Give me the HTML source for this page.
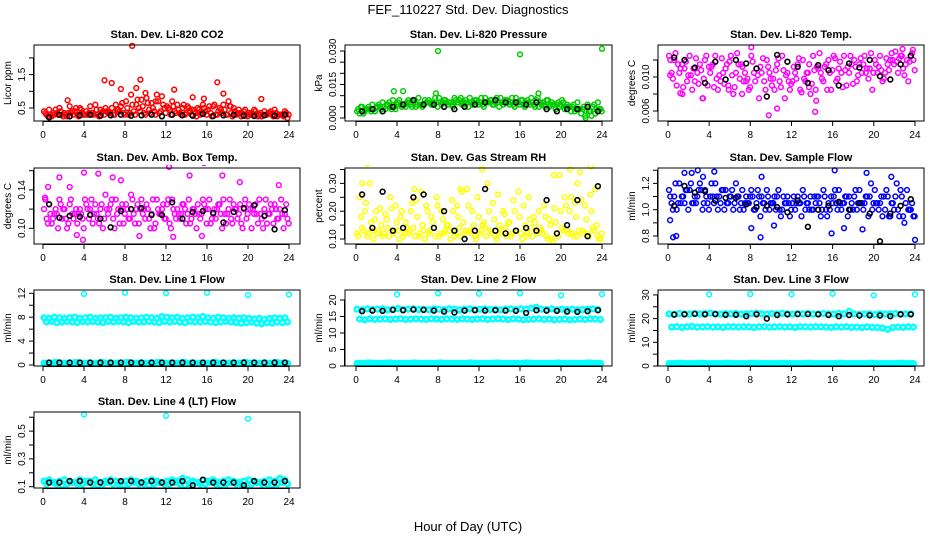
<!DOCTYPE html>
<html><head><meta charset="utf-8">
<style>
html,body{margin:0;padding:0;background:#fff;}
svg{display:block;font-family:"Liberation Sans",sans-serif;}
</style></head>
<body>
<svg id="chart" width="936" height="540" viewBox="0 0 936 540">
<rect x="0" y="0" width="936" height="540" fill="#fff"/>
<text x="468" y="14" text-anchor="middle" font-size="13">FEF_110227  Std. Dev. Diagnostics</text>
<text x="468" y="531" text-anchor="middle" font-size="13">Hour of Day (UTC)</text>
</svg>
<script>
// ---------- data ----------
const xTicks=[0,4,8,12,16,20,24];
const co2A=[0.4,0.45,0.3,0.5,0.35,0.55,0.4,0.5,0.3,0.55,0.6,0.45,0.5,0.35,0.6,0.55,0.7,0.9,0.6,0.75,0.8,0.65,0.9,0.85,0.55,0.7,0.6,0.5,0.55,0.45,0.5,0.6,0.45,0.55,0.4,0.6,0.7,0.5,0.45,0.4,0.35,0.45,0.3,0.4,0.35,0.45,0.3,0.4];
const co2B=[0.3,0.25,0.35,0.3,0.25,0.4,0.3,0.35,0.3,0.35,0.3,0.4,0.35,0.3,0.45,0.35,0.3,0.4,0.5,0.35,0.45,0.4,0.35,0.5,0.45,0.4,0.35,0.3,0.4,0.35,0.3,0.4,0.35,0.3,0.45,0.3,0.35,0.3,0.25,0.3,0.35,0.3,0.25,0.3,0.3,0.25,0.3,0.2];
const co2C=[0.35,0.3,0.45,0.4,0.3,0.35,0.5,0.45,0.4,0.3,0.45,0.35,0.4,0.5,0.45,0.65,0.5,0.6,0.75,0.55,0.65,0.5,0.7,0.6,0.5,0.55,0.45,0.6,0.5,0.4,0.45,0.5,0.55,0.6,0.5,0.45,0.55,0.4,0.35,0.45,0.3,0.4,0.35,0.3,0.4,0.35,0.3,0.35];
const co2D=[0.25,0.35,0.3,0.25,0.35,0.3,0.25,0.3,0.35,0.3,0.25,0.3,0.35,0.3,0.4,0.3,0.35,0.3,0.4,0.3,0.35,0.3,0.4,0.35,0.3,0.35,0.3,0.35,0.3,0.25,0.35,0.3,0.25,0.3,0.35,0.3,0.25,0.35,0.3,0.25,0.3,0.25,0.3,0.35,0.25,0.3,0.25,0.3];
const co2OutH=[8.7,6,6.7,9.5,9.1,7.6,12.8,17,17.6,21.3,2.4,14.6,15.7,10,18.3,11];
const co2OutV=[2.36,1.33,1.25,1.35,1.1,1.07,1.05,1.27,0.93,0.77,0.73,0.82,0.78,0.95,0.55,0.7];
const co2K=[0.22,0.3,0.25,0.28,0.3,0.27,0.28,0.3,0.27,0.28,0.3,0.25,0.3,0.28,0.27,0.32,0.26,0.28,0.3,0.27,0.26,0.28,0.27,0.3];

const presA=[0.003,0.005,0.004,0.006,0.005,0.007,0.006,0.008,0.007,0.006,0.008,0.007,0.009,0.006,0.008,0.007,0.009,0.008,0.007,0.009,0.008,0.007,0.009,0.008,0.007,0.009,0.008,0.007,0.009,0.008,0.007,0.009,0.008,0.007,0.009,0.008,0.006,0.008,0.007,0.006,0.008,0.006,0.005,0.007,0.004,0.006,0.005,0.007];
const presB=[0.002,0.003,0.004,0.003,0.005,0.004,0.005,0.004,0.006,0.005,0.006,0.005,0.006,0.007,0.006,0.007,0.006,0.007,0.006,0.007,0.006,0.007,0.006,0.007,0.006,0.007,0.006,0.007,0.006,0.007,0.006,0.007,0.006,0.007,0.006,0.005,0.006,0.005,0.006,0.005,0.004,0.005,0.003,0.004,0.001,0.003,0.002,0.004];
const presC=[0.004,0.002,0.005,0.004,0.006,0.005,0.007,0.005,0.008,0.006,0.007,0.008,0.006,0.008,0.007,0.009,0.007,0.008,0.007,0.008,0.009,0.008,0.007,0.008,0.009,0.007,0.008,0.009,0.007,0.008,0.009,0.007,0.008,0.008,0.007,0.009,0.007,0.008,0.006,0.007,0.007,0.005,0.006,0.004,0.005,0.003,0.006,0.004];
const presD=[0.005,0.004,0.003,0.005,0.004,0.006,0.004,0.006,0.005,0.007,0.005,0.006,0.005,0.007,0.006,0.005,0.007,0.006,0.005,0.007,0.006,0.005,0.007,0.006,0.005,0.007,0.006,0.005,0.007,0.006,0.005,0.006,0.005,0.006,0.005,0.007,0.005,0.006,0.004,0.006,0.005,0.003,0.004,0.002,0.003,0.001,0.004,0.003];
const presOutH=[8,16,24,3.7,4.6,7.8,17.8,22.4];
const presOutV=[0.030,0.0285,0.031,0.012,0.012,0.011,0.011,0.000];
const presK=[0.003,0.004,0.003,0.005,0.006,0.008,0.006,0.006,0.005,0.004,0.005,0.006,0.007,0.008,0.007,0.007,0.006,0.007,0.004,0.003,0.004,0.004,0.005,0.003];

const tempA=[0.0125,0.012,0.0105,0.011,0.0125,0.0095,0.0115,0.012,0.0105,0.0125,0.0095,0.011,0.0125,0.0105,0.0115,0.0095,0.0125,0.011,0.0105,0.012,0.009,0.0115,0.0125,0.0105,0.0095,0.0115,0.012,0.0105,0.0125,0.011,0.0095,0.012,0.0125,0.011,0.0125,0.0105,0.012,0.0115,0.0125,0.011,0.012,0.0125,0.0105,0.012,0.013,0.0125,0.0115,0.0125];
const tempB=[0.0105,0.009,0.0115,0.0095,0.0085,0.0105,0.0075,0.009,0.0115,0.0085,0.0105,0.009,0.008,0.0115,0.0095,0.0085,0.0105,0.0075,0.0095,0.0105,0.0085,0.0095,0.0075,0.0085,0.0105,0.0085,0.0095,0.008,0.0085,0.0105,0.0115,0.0085,0.0095,0.0105,0.009,0.0115,0.0095,0.0105,0.011,0.0085,0.0105,0.0095,0.0115,0.012,0.0105,0.011,0.0095,0.012];
const tempC=[0.012,0.0128,0.011,0.0118,0.0102,0.0122,0.0108,0.0125,0.0112,0.0098,0.0122,0.0115,0.0102,0.0128,0.0112,0.0098,0.0118,0.0102,0.0122,0.0112,0.0098,0.0122,0.0108,0.0095,0.0112,0.0122,0.0098,0.0115,0.0108,0.0128,0.0112,0.0105,0.0122,0.0118,0.0108,0.0125,0.0112,0.0122,0.0105,0.0128,0.0115,0.0108,0.0122,0.0128,0.0118,0.0125,0.012,0.0128];
const tempD=[0.0098,0.0115,0.0088,0.0102,0.011,0.0092,0.0098,0.0112,0.0088,0.0102,0.0092,0.0118,0.0088,0.0098,0.0105,0.0088,0.0095,0.0112,0.0085,0.0098,0.0108,0.0088,0.0102,0.0092,0.0098,0.0082,0.0105,0.0092,0.0112,0.0098,0.0085,0.0108,0.0098,0.0088,0.0112,0.0092,0.0102,0.0115,0.0098,0.0105,0.0112,0.0098,0.0108,0.0115,0.0122,0.0102,0.0118,0.0108];
const tempOutH=[9.8,10.6,14.3,0.2,3.4,1.4,13.7,8.1,1.2,5.9,22.8,23.8,14.4,7.2];
const tempOutV=[0.0055,0.0063,0.0059,0.0102,0.0075,0.008,0.0088,0.0135,0.0081,0.0085,0.0133,0.0132,0.0072,0.008];
const tempK=[0.0123,0.0120,0.0111,0.0093,0.0118,0.0097,0.0120,0.0116,0.0110,0.0077,0.0126,0.0118,0.0112,0.0093,0.0114,0.0108,0.0090,0.0116,0.0111,0.0120,0.0101,0.0097,0.0115,0.0125];

const ambA=[0.12,0.125,0.115,0.13,0.12,0.125,0.115,0.12,0.13,0.12,0.125,0.12,0.135,0.125,0.13,0.12,0.125,0.135,0.12,0.13,0.125,0.115,0.13,0.12,0.125,0.13,0.12,0.125,0.115,0.12,0.125,0.13,0.12,0.115,0.125,0.13,0.12,0.125,0.115,0.12,0.125,0.115,0.13,0.12,0.115,0.125,0.12,0.115];
const ambB=[0.11,0.105,0.115,0.11,0.1,0.115,0.105,0.11,0.12,0.105,0.11,0.1,0.115,0.11,0.12,0.105,0.11,0.115,0.105,0.12,0.11,0.1,0.115,0.11,0.105,0.115,0.11,0.12,0.105,0.115,0.11,0.12,0.105,0.11,0.115,0.105,0.11,0.12,0.105,0.11,0.1,0.115,0.11,0.105,0.12,0.11,0.115,0.11];
const ambC=[0.13,0.115,0.12,0.125,0.11,0.13,0.12,0.115,0.125,0.13,0.115,0.125,0.12,0.13,0.115,0.125,0.12,0.13,0.125,0.115,0.12,0.13,0.12,0.125,0.13,0.12,0.115,0.125,0.13,0.12,0.115,0.125,0.13,0.12,0.125,0.115,0.13,0.12,0.125,0.13,0.12,0.125,0.115,0.13,0.125,0.12,0.13,0.125];
const ambD=[0.105,0.11,0.1,0.12,0.105,0.11,0.115,0.1,0.11,0.115,0.105,0.11,0.12,0.1,0.105,0.115,0.11,0.105,0.12,0.11,0.1,0.105,0.115,0.11,0.1,0.11,0.115,0.105,0.11,0.1,0.115,0.105,0.11,0.12,0.1,0.115,0.105,0.11,0.1,0.115,0.12,0.105,0.1,0.115,0.105,0.11,0.1,0.105];
const ambOutH=[1.6,2.6,3.3,4,5.4,6.8,7.6,12.3,14.3,15.7,16.2,16.9,17.5,19.2,23,3.9,0.2,9.4,12.7,15.5,0.5];
const ambOutV=[0.153,0.143,0.093,0.158,0.157,0.153,0.15,0.164,0.155,0.168,0.17,0.172,0.155,0.148,0.145,0.088,0.132,0.092,0.091,0.092,0.143];
const ambK=[0.125,0.111,0.113,0.112,0.114,0.110,0.101,0.118,0.120,0.121,0.114,0.114,0.127,0.110,0.117,0.118,0.116,0.106,0.117,0.121,0.124,0.113,0.099,0.119];

const rhA=[0.12,0.14,0.11,0.13,0.12,0.11,0.14,0.12,0.13,0.11,0.12,0.14,0.11,0.13,0.12,0.14,0.11,0.12,0.13,0.11,0.14,0.12,0.13,0.11,0.12,0.14,0.13,0.11,0.12,0.14,0.11,0.13,0.12,0.11,0.14,0.12,0.13,0.11,0.1,0.12,0.14,0.13,0.12,0.11,0.13,0.12,0.14,0.11];
const rhB=[0.25,0.2,0.3,0.17,0.21,0.19,0.25,0.22,0.18,0.16,0.2,0.24,0.27,0.22,0.18,0.25,0.2,0.15,0.24,0.22,0.27,0.28,0.2,0.25,0.15,0.3,0.23,0.26,0.2,0.16,0.24,0.27,0.22,0.25,0.18,0.2,0.22,0.17,0.21,0.33,0.25,0.2,0.23,0.34,0.22,0.26,0.28,0.1];
const rhC=[0.11,0.13,0.12,0.1,0.13,0.12,0.11,0.13,0.1,0.12,0.13,0.11,0.12,0.1,0.13,0.11,0.12,0.13,0.1,0.12,0.11,0.13,0.12,0.1,0.13,0.11,0.12,0.1,0.13,0.11,0.12,0.13,0.1,0.12,0.11,0.13,0.12,0.1,0.09,0.11,0.13,0.12,0.11,0.13,0.12,0.11,0.13,0.1];
const rhD=[0.18,0.23,0.16,0.2,0.15,0.17,0.21,0.16,0.2,0.14,0.23,0.18,0.15,0.2,0.16,0.22,0.17,0.15,0.2,0.18,0.16,0.22,0.15,0.18,0.16,0.2,0.17,0.15,0.19,0.16,0.2,0.18,0.15,0.17,0.16,0.14,0.18,0.15,0.16,0.2,0.22,0.25,0.18,0.24,0.17,0.2,0.15,0.12];
const rhOutH=[1.1,12.3,20.9,22.9,19.3,21.6,0.6,5.7,10.2];
const rhOutV=[0.37,0.35,0.35,0.36,0.33,0.30,0.30,0.28,0.28];
const rhK=[0.26,0.14,0.27,0.13,0.14,0.25,0.26,0.14,0.20,0.13,0.10,0.13,0.28,0.13,0.12,0.13,0.14,0.13,0.24,0.12,0.15,0.24,0.11,0.29];

const flowA=[1.15,1.1,1.2,1.05,1.15,1.1,1.2,1.15,1.1,1.2,1.05,1.15,1.1,1.2,1.05,1.1,1.15,1.05,1.1,1.15,1.05,1.1,1.0,1.1,1.05,1.1,1.15,1.05,1.0,1.1,1.15,1.05,1.1,1.15,1.05,1.1,1.1,1.15,1.05,1.1,1.15,1.05,1.0,0.95,1.1,1.15,1.05,1.0];
const flowB=[1.05,1.0,1.1,1.15,1.05,1.1,1.0,1.05,1.1,1.0,1.15,1.05,1.0,1.1,1.0,1.05,1.0,1.1,1.05,1.0,1.1,1.0,1.05,0.95,1.0,1.05,1.0,1.1,1.05,0.95,1.0,1.1,1.05,1.0,1.1,1.05,1.0,1.05,1.1,1.0,1.05,0.95,1.1,1.05,1.0,0.95,1.0,0.95];
const flowC=[1.1,1.2,1.05,1.15,1.2,1.05,1.15,1.1,1.2,1.1,1.15,1.05,1.15,1.1,1.15,1.05,1.1,1.15,1.05,1.1,1.05,1.15,1.1,1.05,1.1,1.05,1.1,1.0,1.1,1.05,1.1,1.0,1.15,1.05,1.1,1.0,1.15,1.05,1.1,1.2,1.05,1.1,1.15,1.05,1.2,1.1,1.15,1.05];
const flowD=[1.0,1.05,1.1,1.0,1.05,1.15,1.05,1.0,1.05,1.1,1.0,1.1,1.05,1.0,1.05,1.1,1.0,0.95,1.0,1.05,1.0,0.95,1.05,1.0,1.05,0.95,1.05,1.0,1.1,1.0,0.95,1.05,1.0,1.05,0.95,1.0,1.05,1.0,0.95,1.05,1.0,1.1,0.95,1.0,0.95,0.9,1.0,0.95];
const flowOutH=[0.2,0.5,0.8,1.6,2.3,2.9,4.5,8.1,9.0,10.3,15.9,16.2,17.1,18.9,19.3,21.7,24,9.1,3.4];
const flowOutV=[0.92,0.79,0.8,1.28,1.28,1.3,1.29,0.86,0.79,0.88,0.82,1.3,0.86,0.85,1.28,1.25,0.77,1.25,1.25];
const flowK=[1.03,1.18,1.13,1.14,1.07,1.09,1.09,1.04,1.02,1.03,1.02,0.98,1.07,0.87,1.00,1.03,1.06,1.00,1.05,0.97,0.76,0.97,1.03,1.08];

const l1A=[7.9,7.8,8.0,7.9,7.8,7.9,8.0,7.8,7.9,8.0,7.8,7.9,7.9,8.0,7.8,7.9,8.0,7.9,7.8,7.9,8.0,7.9,7.8,8.1,8.0,7.9,8.0,7.8,7.9,8.0,7.9,8.1,7.9,7.8,8.0,7.9,7.8,7.9,7.8,7.9,7.8,7.7,7.8,7.6,7.8,7.9,7.8,7.9];
const l1B=[7.2,7.3,7.1,7.2,7.3,7.2,7.1,7.3,7.2,7.3,7.2,7.1,7.3,7.2,7.3,7.2,7.1,7.3,7.2,7.2,7.3,7.2,7.1,7.3,7.2,7.3,7.2,7.1,7.3,7.2,7.2,7.3,7.2,7.1,7.2,7.3,7.2,7.1,7.0,7.1,7.2,7.0,6.9,7.1,7.0,7.2,7.1,7.2];
const l1Low=[0.3,0.3,0.4,0.3,0.3,0.3,0.4,0.3,0.3,0.3,0.3,0.4,0.3,0.3,0.3,0.3,0.4,0.3,0.3,0.3,0.3,0.3,0.4,0.3,0.3,0.3,0.3,0.4,0.3,0.3,0.3,0.3,0.3,0.4,0.3,0.3,0.3,0.3,0.3,0.4,0.3,0.3,0.3,0.3,0.3,0.4,0.3,0.3];
const l1OutH=[4,8,12,16,20,24];
const l1OutV=[11.9,12.1,12.0,12.1,11.7,11.8];
const l1K=[0.4,0.4,0.4,0.4,0.4,0.4,0.4,0.4,0.4,0.4,0.4,0.4,0.4,0.4,0.4,0.4,0.4,0.4,0.4,0.4,0.4,0.4,0.4,0.4];

const l2A=[17.2,17.0,17.3,17.1,17.2,17.3,17.0,17.2,17.4,17.1,17.2,17.3,17.1,17.2,17.0,17.3,17.2,17.1,17.3,17.2,17.0,17.2,17.3,17.1,17.2,17.3,17.1,17.2,17.0,17.2,17.3,17.1,17.3,17.2,17.5,17.8,17.2,17.1,17.3,17.0,17.2,17.1,17.2,17.0,17.1,17.2,17.3,17.1];
const l2B=[14.2,14.0,14.3,14.1,14.2,14.3,14.1,14.2,14.3,14.1,14.2,14.3,14.2,14.1,14.3,14.2,14.1,14.3,14.2,14.1,14.3,14.2,14.1,14.2,14.3,14.1,14.2,14.3,14.2,14.1,14.3,14.2,14.0,14.1,14.2,14.3,14.1,14.2,14.0,14.1,14.2,14.0,14.1,14.2,14.1,14.3,14.2,14.1];
const l2Low=[0.8,0.8,0.9,0.8,0.8,0.8,0.9,0.8,0.8,0.8,0.8,0.9,0.8,0.8,0.8,0.8,0.9,0.8,0.8,0.8,0.8,0.8,0.9,0.8,0.8,0.8,0.8,0.9,0.8,0.8,0.8,0.8,0.8,0.9,0.8,0.8,0.8,0.8,0.8,0.9,0.8,0.8,0.8,0.8,0.8,0.9,0.8,0.8];
const l2OutH=[4,8,12,16,20,24];
const l2OutV=[21.7,22.0,21.9,22.0,21.4,21.8];
const l2K=[16.6,16.8,16.7,17.0,16.9,17.1,17.0,16.8,16.5,16.2,16.8,16.9,16.8,16.9,16.8,16.7,16.1,16.9,16.8,16.7,16.5,16.4,16.6,16.9];

const l3A=[22.0,21.8,22.1,22.0,21.9,22.2,22.0,22.1,22.3,22.0,21.9,22.1,22.0,22.2,21.9,22.0,22.1,22.3,22.0,21.9,22.1,22.0,22.2,22.0,21.9,22.1,22.0,22.2,21.9,22.0,22.1,22.0,21.9,22.2,22.0,23.0,22.0,21.8,21.9,22.0,21.7,22.1,21.9,22.0,22.1,21.9,22.0,22.0];
const l3B=[16.4,16.6,16.3,16.5,16.7,16.4,16.5,16.6,16.4,16.5,16.3,16.6,16.5,16.4,16.6,16.5,16.3,16.5,16.6,16.4,16.5,16.6,16.4,16.5,16.3,16.6,16.5,16.4,16.6,16.5,16.4,16.3,16.5,16.4,16.6,16.3,16.4,16.2,16.5,16.3,16.2,16.0,15.5,16.2,16.4,16.3,16.5,16.4];
const l3Low=[1,1,1.2,1,1,1,1.2,1,1,1,1,1.2,1,1,1,1,1.2,1,1,1,1,1,1.2,1,1,1,1,1.2,1,1,1,1,1,1.2,1,1,1,1,1,1.2,1,1,1,1,1,1.2,1,1];
const l3OutH=[4,8,12,16,20,24];
const l3OutV=[30.2,30.4,30.3,30.5,29.8,30.2];
const l3K=[21.7,21.8,22.0,21.8,21.9,21.6,21.6,21.0,21.8,20.0,21.5,21.8,21.9,21.9,21.8,21.5,21.0,21.5,21.3,21.4,21.3,21.0,21.8,21.8];

const l4A=[0.14,0.15,0.13,0.14,0.15,0.14,0.13,0.15,0.14,0.14,0.15,0.13,0.14,0.15,0.14,0.13,0.14,0.15,0.14,0.13,0.14,0.15,0.14,0.13,0.14,0.15,0.14,0.16,0.15,0.14,0.13,0.15,0.14,0.15,0.13,0.14,0.15,0.14,0.13,0.14,0.15,0.14,0.13,0.14,0.15,0.14,0.16,0.15];
const l4B=[0.12,0.13,0.12,0.11,0.12,0.13,0.12,0.12,0.13,0.12,0.11,0.12,0.13,0.12,0.12,0.11,0.12,0.13,0.12,0.12,0.11,0.12,0.13,0.12,0.12,0.13,0.12,0.11,0.12,0.13,0.12,0.12,0.13,0.12,0.11,0.12,0.13,0.12,0.12,0.11,0.12,0.13,0.12,0.12,0.11,0.12,0.13,0.12];
const l4OutH=[4,12,20];
const l4OutV=[0.62,0.61,0.59];
const l4K=[0.13,0.13,0.14,0.14,0.13,0.13,0.14,0.14,0.14,0.13,0.14,0.13,0.13,0.14,0.11,0.15,0.13,0.13,0.13,0.11,0.14,0.13,0.13,0.14];

// ---------- layout ----------
const NS="http://www.w3.org/2000/svg";
const svg=document.getElementById('chart');
const cols=[{L:34,R:300,x0:43,k:10.25},{L:345,R:612,x0:356,k:10.25},{L:658,R:924,x0:668,k:10.29}];
const rowTops=[45,168,290,412];
const H=76;
function mk(tag,attrs,parent){const e=document.createElementNS(NS,tag);for(const a in attrs)e.setAttribute(a,attrs[a]);(parent||svg).appendChild(e);return e;}
const offs={A:0.1,B:0.35,C:0.225,D:0.475};
function hoursFor(kind,n){const h=[];for(let i=0;i<n;i++){h.push(kind==='K'?i+0.6:i*0.5+offs[kind]);}return h;}

const panels=[
 {c:0,r:0,title:'Stan. Dev. Li-820 CO2',yl:'Licor ppm',v0:0.5,y0:108,s:33.4,ticks:[0.5,1.0,1.5,2.0],labels:['0.5','','1.5',''],col:'#ff0000',sw:1.5,
  ser:[['A',co2A],['B',co2B],['C',co2C],['D',co2D],[co2OutH,co2OutV]],K:co2K},
 {c:1,r:0,title:'Stan. Dev. Li-820 Pressure',yl:'kPa',v0:0,y0:118,s:2233,ticks:[0,0.005,0.01,0.015,0.02,0.025,0.03],labels:['0.000','','','0.015','','','0.030'],col:'#00cc00',sw:1.5,
  ser:[['A',presA],['B',presB],['C',presC],['D',presD],[presOutH,presOutV]],K:presK},
 {c:2,r:0,title:'Stan. Dev. Li-820 Temp.',yl:'degrees C',v0:0.010,y0:77,s:8500,ticks:[0.006,0.008,0.010,0.012],labels:['0.006','','0.010',''],col:'#ff00ff',sw:1.5,
  ser:[['A',tempA],['B',tempB],['C',tempC],['D',tempD],[tempOutH,tempOutV]],K:tempK},
 {c:0,r:1,title:'Stan. Dev. Amb. Box Temp.',yl:'degrees C',v0:0.10,y0:228.3,s:960,ticks:[0.10,0.12,0.14,0.16],labels:['0.10','','0.14',''],col:'#ff00ff',sw:1.5,
  ser:[['A',ambA],['B',ambB],['C',ambC],['D',ambD],[ambOutH,ambOutV]],K:ambK},
 {c:1,r:1,title:'Stan. Dev. Gas Stream RH',yl:'percent',v0:0.10,y0:239,s:278,ticks:[0.10,0.15,0.20,0.25,0.30,0.35],labels:['0.10','','0.20','','0.30',''],col:'#ffff00',sw:1.5,
  ser:[['A',rhA],['B',rhB],['C',rhC],['D',rhD],[rhOutH,rhOutV]],K:rhK},
 {c:2,r:1,title:'Stan. Dev. Sample Flow',yl:'ml/min',v0:1.0,y0:209.7,s:131.5,ticks:[0.8,0.9,1.0,1.1,1.2,1.3],labels:['0.8','','1.0','','1.2',''],col:'#0000ff',sw:1.5,
  ser:[['A',flowA],['B',flowB],['C',flowC],['D',flowD],[flowOutH,flowOutV]],K:flowK},
 {c:0,r:2,title:'Stan. Dev. Line 1 Flow',yl:'ml/min',v0:0,y0:365,s:5.975,ticks:[0,2,4,6,8,10,12],labels:['0','','4','','8','','12'],col:'#00ffff',sw:2.4,
  ser:[['A',l1A],['B',l1B],['A',l1Low],['B',l1Low],[l1OutH,l1OutV]],K:l1K},
 {c:1,r:2,title:'Stan. Dev. Line 2 Flow',yl:'ml/min',v0:0,y0:366,s:3.3,ticks:[0,5,10,15,20],labels:['0','5','10','15','20'],col:'#00ffff',sw:2.4,
  ser:[['A',l2A],['B',l2B],['A',l2Low],['B',l2Low],[l2OutH,l2OutV]],K:l2K},
 {c:2,r:2,title:'Stan. Dev. Line 3 Flow',yl:'ml/min',v0:0,y0:366,s:2.37,ticks:[0,5,10,15,20,25,30],labels:['0','','10','','20','','30'],col:'#00ffff',sw:2.4,
  ser:[['A',l3A],['B',l3B],['A',l3Low],['B',l3Low],[l3OutH,l3OutV]],K:l3K},
 {c:0,r:3,title:'Stan. Dev. Line 4 (LT) Flow',yl:'ml/min',v0:0.1,y0:486.7,s:139,ticks:[0.1,0.2,0.3,0.4,0.5,0.6],labels:['0.1','','0.3','','0.5',''],col:'#00ffff',sw:2.4,
  ser:[['A',l4A],['B',l4B],[l4OutH,l4OutV]],K:l4K}
];

panels.forEach((p,pi)=>{
  const C=cols[p.c], T=rowTops[p.r], B=T+H;
  const g=mk('g',{});
  
  
  const xs=h=>C.x0+h*C.k;
  const ys=v=>p.y0-(v-p.v0)*p.s;
  const cp='clip'+pi;
  const cpe=mk('clipPath',{id:cp},g);
  mk('rect',{x:C.L,y:T-3,width:C.R-C.L,height:H+6},cpe);
  const pts=mk('g',{'clip-path':'url(#'+cp+')'},g);
  
  
  p.ser.forEach(s=>{
    const vals=s[1];
    const isOut=Array.isArray(s[0]);
    const hrs=isOut?s[0]:hoursFor(s[0],vals.length);
    vals.forEach((v,i)=>{
      const c=mk('circle',{cx:xs(hrs[i]).toFixed(1),cy:ys(v).toFixed(1),r:2.4,fill:'none',stroke:p.col,'stroke-width':isOut?1.5:p.sw},pts);
      
      
    });
  });
  const kh=hoursFor('K',p.K.length);
  p.K.forEach((v,i)=>{
    const c=mk('circle',{cx:xs(kh[i]).toFixed(1),cy:ys(v).toFixed(1),r:2.4,fill:'none',stroke:'#000','stroke-width':1.6},pts);
    
    
  });
  const box=mk('rect',{x:C.L,y:T,width:C.R-C.L,height:H,fill:'none',stroke:'#000','stroke-width':1},g);
  
  
  const t=mk('text',{x:(C.L+C.R)/2,y:T-7,'text-anchor':'middle','font-size':11,'font-weight':'bold'},g);
  t.textContent=p.title;
  
  
  mk('line',{x1:xs(0),x2:xs(24),y1:B+0.5,y2:B+0.5,stroke:'#000'},g);
  xTicks.forEach(h=>{
    mk('line',{x1:xs(h),x2:xs(h),y1:B,y2:B+5,stroke:'#000'},g);
    const tl=mk('text',{x:xs(h),y:B+17,'text-anchor':'middle','font-size':10},g);
    tl.textContent=h;
    
    
  });
  const yt0=ys(p.ticks[0]), yt1=ys(p.ticks[p.ticks.length-1]);
  mk('line',{x1:C.L-0.5,x2:C.L-0.5,y1:yt0,y2:yt1,stroke:'#000'},g);
  p.ticks.forEach((v,i)=>{
    const y=ys(v);
    mk('line',{x1:C.L-5,x2:C.L,y1:y,y2:y,stroke:'#000'},g);
    if(p.labels[i]){
      const yl=mk('text',{x:C.L-9,y:y,'text-anchor':'middle','font-size':10,transform:'rotate(-90 '+(C.L-9)+' '+y+')'},g);
      yl.textContent=p.labels[i];
      
      
    }
  });
  const yy=(T+B)/2;
  const ya=mk('text',{x:C.L-23,y:yy,'text-anchor':'middle','font-size':10,transform:'rotate(-90 '+(C.L-23)+' '+yy+')'},g);
  ya.textContent=p.yl;
  
  
});
</script>
</body></html>
